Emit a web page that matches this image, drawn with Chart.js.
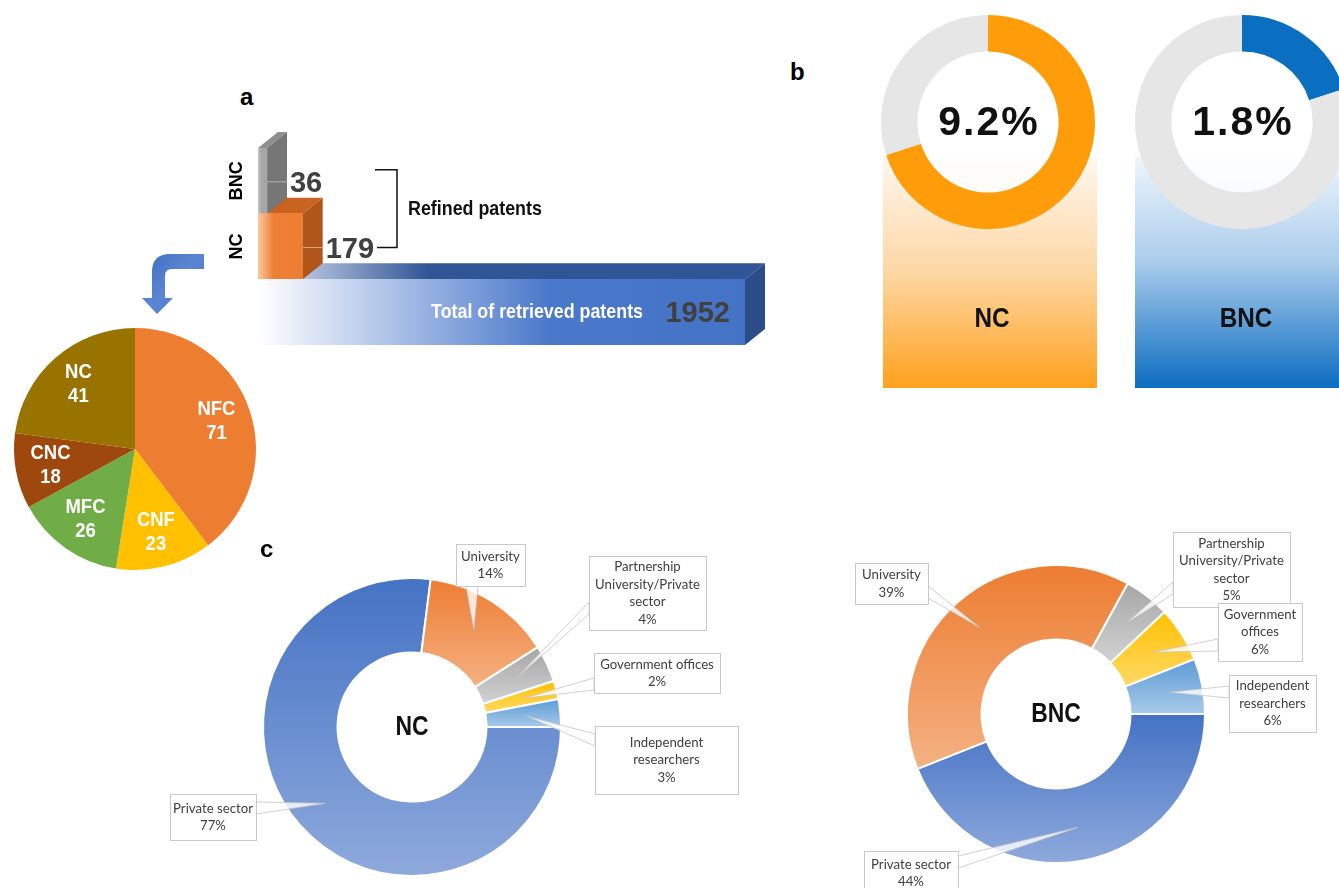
<!DOCTYPE html>
<html>
<head>
<meta charset="utf-8">
<title>Nanocellulose patents</title>
<script src="https://cdn.jsdelivr.net/npm/chart.js@4.4.1/dist/chart.umd.min.js"></script>
<style>
  html, body { margin: 0; padding: 0; background: #fff; }
  body { position: relative; width: 1339px; height: 888px; overflow: hidden; }
  canvas { position: absolute; }
  .tag { position: absolute; font: bold 24px "Liberation Sans", Arial, sans-serif; line-height: 1; color: #000; }
</style>
</head>
<body>
<canvas id="srcNC" width="590" height="358" style="left:160px;top:530px"></canvas>
<canvas id="srcBNC" width="499" height="368" style="left:840px;top:520px"></canvas>
<canvas id="ringNC" width="240" height="400" style="left:870px;top:0px"></canvas>
<canvas id="ringBNC" width="240" height="400" style="left:1122px;top:0px"></canvas>
<canvas id="types" width="270" height="260" style="left:0px;top:320px"></canvas>
<canvas id="bars" width="670" height="240" style="left:120px;top:120px"></canvas>
<div class="tag" style="left:240px;top:85px">a</div>
<div class="tag" style="left:790px;top:60px">b</div>
<div class="tag" style="left:260px;top:537px">c</div>
<script>
// data
const barLabels = ['BNC', 'NC', 'Total of retrieved patents'];
const barValues = [36, 179, 1952];

const typeLabels = ['NFC', 'CNF', 'MFC', 'CNC', 'NC'];
const typeValues = [71, 23, 26, 18, 41];
const typeColors = ['#ed7d31', '#ffc000', '#70ad47', '#9e480e', '#997300'];

const shareNames = ['NC', 'BNC'];
const shareText = ['9.2%', '1.8%'];
const ncRing = [70, 30];
const bncRing = [20, 80];

const sourceLabels = ['Private sector', 'University', 'Partnership University/Private sector', 'Government offices', 'Independent researchers'];
const ncSources = [77, 14, 4, 2, 3];
const bncSources = [44, 39, 5, 6, 6];
const sourceFills = [['#4472c4', '#8faadc'], ['#ed7d31', '#f4b183'], ['#a5a5a5', '#d3d3d3'], ['#ffc000', '#ffd966'], ['#5b9bd5', '#a9cbea']];

Chart.defaults.animation = false;
Chart.defaults.responsive = false;
Chart.defaults.events = [];
Chart.defaults.plugins.legend.display = false;
Chart.defaults.plugins.tooltip.enabled = false;

// bold narrow text (condensed look by squeezing Liberation Sans)
function narrowText(ctx, text, x, y, size, color, align, squeeze) {
  ctx.save();
  ctx.font = 'bold ' + size + 'px "Liberation Sans", Arial, sans-serif';
  ctx.fillStyle = color;
  ctx.textBaseline = 'middle';
  ctx.textAlign = align || 'center';
  ctx.translate(x, y);
  ctx.scale(squeeze || 0.85, 1);
  ctx.fillText(text, 0, 0);
  ctx.restore();
}

// ---------- panel a : 3D bars ----------
const DX = 20, DY = -16;
const barFaces = [
  { front: ['#c8c8c8', '#a8a8a8', '#a6a6a6'], top: '#8f8f8f', side: '#767676' },
  { front: ['#f9c8a0', '#ee8035', '#ed7d31'], top: '#c9631f', side: '#b0561b' },
  { front: ['#ffffff', '#4a78cb', '#4472c4'], top: ['#e6ecf7', '#2f5597'], side: '#2b4c88' }
];

function frontFill(c) {
  const chart = c.chart, area = chart.chartArea;
  const f = barFaces[c.dataIndex].front;
  if (!area) return f[2];
  const end = chart.scales.x.getPixelForValue(c.parsed.x);
  const g = chart.ctx.createLinearGradient(area.left, 0, end, 0);
  g.addColorStop(0, f[0]);
  g.addColorStop(c.dataIndex === 2 ? 0.6 : 0.35, f[1]);
  g.addColorStop(1, f[2]);
  return g;
}

const barDecor = {
  id: 'barDecor',
  beforeDatasetsDraw(chart) {
    const ctx = chart.ctx, bars = chart.getDatasetMeta(0).data;
    for (let i = bars.length - 1; i >= 0; i--) {
      const b = bars[i], f = barFaces[i];
      const t = b.y - b.height / 2, bt = b.y + b.height / 2, l = b.base, r = b.x;
      ctx.beginPath();
      ctx.moveTo(l, t); ctx.lineTo(l + DX, t + DY); ctx.lineTo(r + DX, t + DY); ctx.lineTo(r, t);
      ctx.closePath();
      if (Array.isArray(f.top)) {
        const g = ctx.createLinearGradient(l, 0, r, 0);
        g.addColorStop(0, f.top[0]); g.addColorStop(0.35, f.top[1]); g.addColorStop(1, f.top[1]);
        ctx.fillStyle = g;
      } else {
        ctx.fillStyle = f.top;
      }
      ctx.fill();
      ctx.beginPath();
      ctx.moveTo(r, t); ctx.lineTo(r + DX, t + DY); ctx.lineTo(r + DX, bt + DY); ctx.lineTo(r, bt);
      ctx.closePath();
      ctx.fillStyle = f.side;
      ctx.fill();
      if (i < 2) {
        ctx.strokeStyle = 'rgba(255,255,255,0.45)';
        ctx.lineWidth = 1;
        ctx.beginPath(); ctx.moveTo(r, b.y + 1); ctx.lineTo(r + DX, b.y + 1); ctx.stroke();
      }
    }
  },
  afterDatasetsDraw(chart) {
    const ctx = chart.ctx, bars = chart.getDatasetMeta(0).data;
    ctx.save();
    ctx.font = 'bold 29px "Liberation Sans", Arial, sans-serif';
    ctx.fillStyle = '#404040';
    ctx.textBaseline = 'middle';
    ctx.textAlign = 'left';
    for (let i = 0; i < 2; i++) ctx.fillText(String(barValues[i]), bars[i].x + DX + 3, bars[i].y + 3);
    ctx.textAlign = 'right';
    ctx.fillText(String(barValues[2]), bars[2].x - 15, bars[2].y + 2);
    ctx.restore();
    narrowText(ctx, barLabels[2], bars[2].x - 102, bars[2].y, 21, '#ffffff', 'right', 0.85);

    // rotated category names
    for (let i = 0; i < 2; i++) {
      ctx.save();
      ctx.translate(117, bars[i].y);
      ctx.rotate(-Math.PI / 2);
      narrowText(ctx, barLabels[i], 0, 0, 19, '#000', 'center', 0.95);
      ctx.restore();
    }

    // bracket "Refined patents"
    const yTop = bars[0].y - 11, yBot = bars[1].y + 1;
    ctx.save();
    ctx.strokeStyle = '#111';
    ctx.lineWidth = 1.5;
    ctx.beginPath();
    ctx.moveTo(255, yTop); ctx.lineTo(277, yTop); ctx.lineTo(277, yBot); ctx.lineTo(257, yBot);
    ctx.stroke();
    ctx.restore();
    narrowText(ctx, 'Refined patents', 288, (yTop + yBot) / 2 + 1, 21, '#111', 'left', 0.85);

    // blue bent arrow pointing to the pie
    ctx.save();
    const g = ctx.createLinearGradient(22, 134, 84, 194);
    g.addColorStop(0, '#3f6cc0'); g.addColorStop(0.5, '#5b86d4'); g.addColorStop(1, '#3f6cc0');
    ctx.fillStyle = g;
    ctx.beginPath();
    ctx.moveTo(84, 134); ctx.lineTo(50, 134);
    ctx.quadraticCurveTo(32, 134, 32, 152);
    ctx.lineTo(32, 178); ctx.lineTo(22, 178); ctx.lineTo(37, 194); ctx.lineTo(53, 178); ctx.lineTo(45, 178);
    ctx.lineTo(45, 156);
    ctx.quadraticCurveTo(45, 149, 52, 149);
    ctx.lineTo(84, 149);
    ctx.closePath();
    ctx.fill();
    ctx.restore();
  }
};

new Chart(document.getElementById('bars'), {
  type: 'bar',
  data: {
    labels: barLabels,
    datasets: [{ data: barValues, backgroundColor: frontFill, borderWidth: 0, barPercentage: 1, categoryPercentage: 1 }]
  },
  options: {
    indexAxis: 'y',
    layout: { padding: { left: 138, right: 45, top: 28, bottom: 15 } },
    scales: {
      x: { display: false, min: 0, max: Math.max(...barValues) },
      y: { display: false }
    }
  },
  plugins: [barDecor]
});

// ---------- panel a : pie of NC types ----------
const pieText = {
  id: 'pieText',
  afterDatasetsDraw(chart) {
    const ctx = chart.ctx;
    chart.getDatasetMeta(0).data.forEach((arc, i) => {
      const mid = (arc.startAngle + arc.endAngle) / 2, r = arc.outerRadius * 0.71;
      const x = arc.x + Math.cos(mid) * r, y = arc.y + Math.sin(mid) * r;
      narrowText(ctx, typeLabels[i], x, y - 12, 21, '#fff', 'center', 0.88);
      narrowText(ctx, String(typeValues[i]), x, y + 12, 21, '#fff', 'center', 0.88);
    });
  }
};

new Chart(document.getElementById('types'), {
  type: 'pie',
  data: { labels: typeLabels, datasets: [{ data: typeValues, backgroundColor: typeColors, borderWidth: 0 }] },
  options: { layout: { padding: { left: 14, right: 14, top: 8, bottom: 10 } } },
  plugins: [pieText]
});

// ---------- panel b : share rings ----------
function ringCard(id, values, colors, pct, name, pad, card) {
  const deco = {
    id: 'card',
    beforeDraw(chart) {
      const ctx = chart.ctx;
      const g = ctx.createLinearGradient(0, card.y, 0, card.y + card.h);
      card.stops.forEach(s => g.addColorStop(s[0], s[1]));
      ctx.fillStyle = g;
      ctx.fillRect(card.x, card.y, card.w, card.h);
    },
    beforeDatasetsDraw(chart) {
      const ctx = chart.ctx, arc = chart.getDatasetMeta(0).data[0];
      ctx.save();
      ctx.fillStyle = 'rgba(255,255,255,0.82)';
      ctx.beginPath(); ctx.arc(arc.x, arc.y, arc.innerRadius, 0, Math.PI * 2); ctx.fill();
      ctx.restore();
    },
    afterDatasetsDraw(chart) {
      const ctx = chart.ctx, arc = chart.getDatasetMeta(0).data[0];
      ctx.save();
      ctx.font = 'bold 41px "Liberation Sans", Arial, sans-serif';
      ctx.letterSpacing = '2px';
      ctx.fillStyle = '#111';
      ctx.textAlign = 'center';
      ctx.textBaseline = 'middle';
      ctx.fillText(pct, arc.x + 1, arc.y + 2);
      ctx.restore();
      narrowText(ctx, name, arc.x + 4, 320, 27, '#111', 'center', 0.9);
    }
  };
  return new Chart(document.getElementById(id), {
    type: 'doughnut',
    data: { labels: [name, 'other'], datasets: [{ data: values, backgroundColor: colors, borderWidth: 0 }] },
    options: { cutout: '66%', layout: { padding: pad } },
    plugins: [deco]
  });
}

ringCard('ringNC', ncRing, ['#ff9c0a', '#e6e6e6'], shareText[0], shareNames[0],
  { left: 11, right: 15, top: 15, bottom: 171 },
  { x: 13, y: 157, w: 214, h: 231, stops: [[0, '#fff7ee'], [0.5, '#fdd7a4'], [1, '#ffa11c']] });
ringCard('ringBNC', bncRing, ['#0b6fc1', '#e6e6e6'], shareText[1], shareNames[1],
  { left: 13, right: 13, top: 15, bottom: 171 },
  { x: 13, y: 157, w: 240, h: 231, stops: [[0, '#eef5fc'], [0.45, '#abcdec'], [1, '#0b6cc0']] });

// ---------- panel c : sources doughnuts ----------
function segmentFill(c, pair, rotationDeg, cutoutFrac) {
  const chart = c.chart, area = chart.chartArea;
  if (!area) return pair[0];
  const data = c.dataset.data;
  const total = data.reduce((s, v) => s + v, 0);
  let a0 = (rotationDeg - 90) * Math.PI / 180;
  for (let j = 0; j < c.dataIndex; j++) a0 += data[j] / total * 2 * Math.PI;
  const a1 = a0 + data[c.dataIndex] / total * 2 * Math.PI;
  const cy = (area.top + area.bottom) / 2;
  const R = Math.min(area.width, area.height) / 2, r = R * cutoutFrac;
  let minY = Infinity, maxY = -Infinity;
  for (let k = 0; k <= 36; k++) {
    const a = a0 + (a1 - a0) * k / 36;
    [r, R].forEach(rr => {
      const y = cy + Math.sin(a) * rr;
      minY = Math.min(minY, y); maxY = Math.max(maxY, y);
    });
  }
  const g = chart.ctx.createLinearGradient(0, minY, 0, maxY + 1);
  g.addColorStop(0, pair[0]);
  g.addColorStop(1, pair[1]);
  return g;
}

function wrapLines(ctx, text, maxW) {
  const words = text.split(' '), lines = [];
  let cur = '';
  words.forEach(w => {
    const test = cur ? cur + ' ' + w : w;
    if (cur && ctx.measureText(test).width > maxW) { lines.push(cur); cur = w; } else cur = test;
  });
  if (cur) lines.push(cur);
  return lines;
}

function sourceChart(id, values, name, pad, offset, callouts) {
  const deco = {
    id: 'callouts',
    afterDatasetsDraw(chart) {
      const ctx = chart.ctx, arcs = chart.getDatasetMeta(0).data;
      narrowText(ctx, name, arcs[0].x, arcs[0].y + 1, 27, '#111', 'center', 0.85);
      ctx.save();
      ctx.font = '13.2px Lato, "Liberation Sans", sans-serif';
      callouts.forEach((L, i) => {
        const arc = arcs[i];
        const mid = (arc.startAngle + arc.endAngle) / 2;
        const rr = arc.innerRadius + 0.55 * (arc.outerRadius - arc.innerRadius);
        const ax = arc.x + Math.cos(mid) * rr, ay = arc.y + Math.sin(mid) * rr;
        const bx = L.x - offset[0], by = L.y - offset[1];
        let p1, p2;
        if (L.side === 'left') { p1 = [bx, L.at - offset[1] - 6]; p2 = [bx, L.at - offset[1] + 6]; }
        else if (L.side === 'right') { p1 = [bx + L.w, L.at - offset[1] - 6]; p2 = [bx + L.w, L.at - offset[1] + 6]; }
        else { p1 = [L.at - offset[0] - 6, by + L.h]; p2 = [L.at - offset[0] + 6, by + L.h]; }
        ctx.beginPath();
        ctx.moveTo(p1[0], p1[1]); ctx.lineTo(ax, ay); ctx.lineTo(p2[0], p2[1]);
        ctx.closePath();
        ctx.fillStyle = 'rgba(255,255,255,0.8)';
        ctx.fill();
        ctx.strokeStyle = '#c4c4c4';
        ctx.lineWidth = 0.8;
        ctx.stroke();

        ctx.fillStyle = '#fff';
        ctx.fillRect(bx, by, L.w, L.h);
        ctx.strokeStyle = '#c9c9c9';
        ctx.lineWidth = 1;
        ctx.strokeRect(bx + 0.5, by + 0.5, L.w, L.h);

        const lines = wrapLines(ctx, sourceLabels[i], L.wrap).concat([values[i] + '%']);
        const lh = 17.5, y0 = by + L.h / 2 - (lines.length - 1) * lh / 2;
        ctx.fillStyle = '#404040';
        ctx.textAlign = 'center';
        ctx.textBaseline = 'middle';
        lines.forEach((t, k) => ctx.fillText(t, bx + L.w / 2, y0 + k * lh));
      });
      ctx.restore();
    }
  };
  return new Chart(document.getElementById(id), {
    type: 'doughnut',
    data: {
      labels: sourceLabels,
      datasets: [{
        data: values,
        backgroundColor: c => segmentFill(c, sourceFills[c.dataIndex], 90, 0.5),
        borderColor: '#ffffff',
        borderWidth: 2
      }]
    },
    options: { cutout: '50%', rotation: 90, layout: { padding: pad } },
    plugins: [deco]
  });
}

sourceChart('srcNC', ncSources, 'NC', { left: 102, right: 188, top: 47, bottom: 11 }, [160, 530], [
  { x: 170, y: 794, w: 86, h: 46, side: 'right', at: 808, wrap: 90 },
  { x: 456, y: 544, w: 69, h: 42, side: 'bottom', at: 472, wrap: 80 },
  { x: 589, y: 556, w: 117, h: 74, side: 'left', at: 608, wrap: 110 },
  { x: 594, y: 653, w: 126, h: 40, side: 'left', at: 684, wrap: 130 },
  { x: 595, y: 726, w: 143, h: 68, side: 'left', at: 740, wrap: 100 }
]);
sourceChart('srcBNC', bncSources, 'BNC', { left: 66, right: 133, top: 44, bottom: 24 }, [840, 520], [
  { x: 864, y: 851, w: 94, h: 44, side: 'right', at: 862, wrap: 100 },
  { x: 855, y: 563, w: 73, h: 41, side: 'right', at: 592, wrap: 80 },
  { x: 1173, y: 532, w: 117, h: 75, side: 'left', at: 588, wrap: 112 },
  { x: 1218, y: 603, w: 84, h: 58, side: 'left', at: 645, wrap: 80 },
  { x: 1229, y: 675, w: 87, h: 57, side: 'left', at: 692, wrap: 80 }
]);
</script>
</body>
</html>
